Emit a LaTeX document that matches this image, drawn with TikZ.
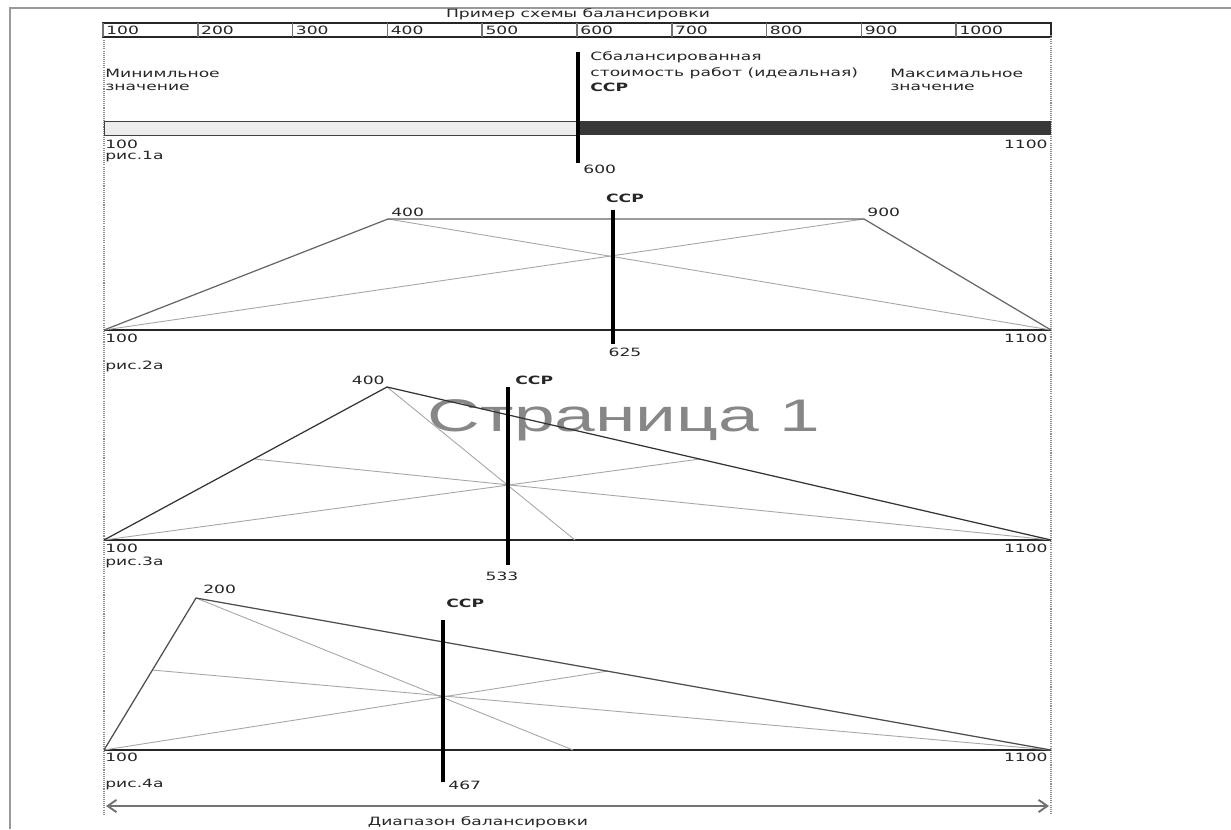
\documentclass[tikz,border=0pt]{standalone}
\usepackage{fontspec}
\setmainfont{DejaVu Sans}[FakeStretch=1.5]
\newfontfamily\markfont{Liberation Sans}[FakeStretch=1.6]
\usetikzlibrary{arrows.meta}

\tikzset{
  txt/.style={font=\fontsize{6.5}{7.5}\selectfont, text=black!85, inner sep=0pt},
  boldtxt/.style={txt, font=\fontsize{6.5}{7.5}\selectfont\bfseries},
  ccp/.style={line width=2.2pt, black},
  base/.style={line width=0.6pt, black!85},
  outline/.style={line width=0.7pt, black!80},
  median/.style={line width=0.5pt, black!35},
  guide/.style={black!45, line width=1pt, dash pattern=on 0.6pt off 0.6pt},
}

\begin{document}
\begin{tikzpicture}[x=0.02cm, y=-0.02cm]
    \useasboundingbox (0,0) rectangle (1231,829);
    \fill[white] (0,0) rectangle (1231,829);
    % Page frame
    \draw[black!40, line width=1.7pt] (10,829) -- (10,8) -- (1231,8);

    % Watermark
    \node[font=\markfont\fontsize{26}{30}\selectfont, text=black!47] (mark) at (624,420) {Страница 1};

    % Scale
    \node[txt] (title) at (578,14) {Пример схемы балансировки};
    \draw[base] (103,23) rectangle (1051,37);
    \foreach \i in {0,...,9} {
        \draw[black!55, line width=1pt] ({103+94.8*\i},23) -- ({103+94.8*\i},37);
        \node[txt, anchor=west] (cell\i) at ({106+94.8*\i},30) {\the\numexpr(\i+1)*100\relax};
    }

    % Range limits
    \draw[guide] (104,40) -- (104,815);
    \draw[guide] (1051,35) -- (1051,815);

    % Fig 1
    \draw[black!75, fill=black!7, line width=0.5pt] (104,121) rectangle (578,135);
    \fill[black!78] (578,121) rectangle (1051,135);
    \draw[ccp] (578,52) -- (578,163);
    \node[txt, anchor=west] (minA) at (105,73) {Минимльное};
    \node[txt, anchor=west] (minB) at (105,87) {значение};
    \node[txt, anchor=west] (balA) at (590,57) {Сбалансированная};
    \node[txt, anchor=west] (balB) at (590,73) {стоимость работ (идеальная)};
    \node[boldtxt, anchor=west] (balC) at (590,87) {ССР};
    \node[txt, anchor=west] (maxA) at (890,73) {Максимальное};
    \node[txt, anchor=west] (maxB) at (890,87) {значение};
    \node[txt, anchor=west] (lo1) at (105,144) {100};
    \node[txt, anchor=west] (fig1) at (105,157) {рис.1а};
    \node[txt, anchor=east] (hi1) at (1048,144) {1100};
    \node[txt, anchor=west] (val1) at (583,169) {600};

    % Fig 2
    \coordinate (a2) at (104,330);
    \coordinate (p2) at (388,219);
    \coordinate (q2) at (864,219);
    \coordinate (b2) at (1051,330);
    \draw[base] (a2) -- (b2);
    \draw[median] (a2) -- (q2);
    \draw[median] (p2) -- (b2);
    \draw[outline, black!60] (a2) -- (p2) -- (q2) -- (b2);
    \draw[ccp] (613,210) -- (613,344);
    \node[txt, anchor=south west] (top2a) at (391,217) {400};
    \node[txt, anchor=south west] (top2b) at (867,217) {900};
    \node[boldtxt] (ccp2) at (625,198) {ССР};
    \node[txt] (val2) at (625,352) {625};
    \node[txt, anchor=west] (lo2) at (105,338) {100};
    \node[txt, anchor=west] (fig2) at (105,366) {рис.2а};
    \node[txt, anchor=east] (hi2) at (1048,338) {1100};

    % Fig 3
    \coordinate (a3) at (104,540);
    \coordinate (p3) at (387,387);
    \coordinate (b3) at (1051,540);
    \draw[base] (a3) -- (b3);
    \draw[median] (p3) -- (575,540);
    \draw[median] (a3) -- (700,459);
    \draw[median] (b3) -- (254,459);
    \draw[outline] (a3) -- (p3) -- (b3);
    \draw[ccp] (508,387) -- (508,565);
    \node[txt, anchor=east] (top3) at (385,380) {400};
    \node[boldtxt, anchor=west] (ccp3) at (515,380) {ССР};
    \node[txt] (val3) at (502,576) {533};
    \node[txt, anchor=west] (lo3) at (105,548) {100};
    \node[txt, anchor=west] (fig3) at (105,562) {рис.3а};
    \node[txt, anchor=east] (hi3) at (1048,548) {1100};

    % Fig 4
    \coordinate (a4) at (104,750);
    \coordinate (p4) at (196,598);
    \coordinate (b4) at (1051,750);
    \draw[base] (a4) -- (b4);
    \draw[median] (p4) -- (573,750);
    \draw[median] (a4) -- (608,671);
    \draw[median] (b4) -- (152,670);
    \draw[outline, black!70] (a4) -- (p4) -- (b4);
    \draw[ccp] (443,620) -- (443,782);
    \node[txt, anchor=west] (top4) at (203,589) {200};
    \node[boldtxt, anchor=west] (ccp4) at (446,603) {ССР};
    \node[txt, anchor=west] (val4) at (448,785) {467};
    \node[txt, anchor=west] (lo4) at (105,757) {100};
    \node[txt, anchor=west] (fig4) at (105,785) {рис.4а};
    \node[txt, anchor=east] (hi4) at (1048,757) {1100};

    % Range
    \coordinate (rangeL) at (106,806);
    \coordinate (rangeR) at (1049,806);
    \draw[black!55, line width=1.1pt, {Straight Barb[length=5pt,width=7pt]}-{Straight Barb[length=5pt,width=7pt]}] (rangeL) -- (rangeR);
    \node[txt] (range) at (478,822) {Диапазон балансировки};
\end{tikzpicture}
\end{document}
